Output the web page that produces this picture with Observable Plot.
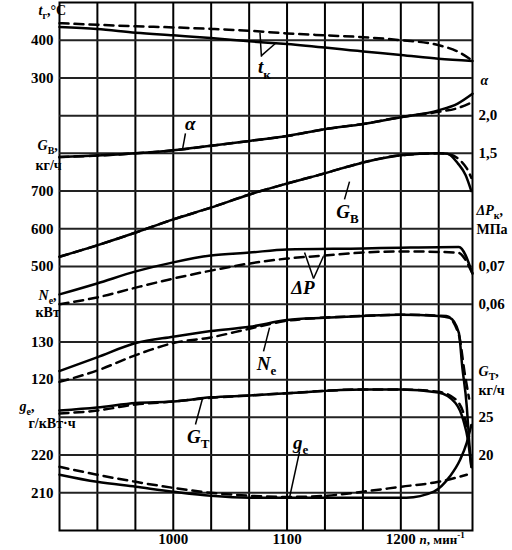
<!DOCTYPE html>
<html><head><meta charset="utf-8">
<script src="https://cdn.jsdelivr.net/npm/d3@7"></script>
<script src="https://cdn.jsdelivr.net/npm/@observablehq/plot@0.6"></script>
<style>body{margin:0;background:#fff;overflow:hidden} svg{display:block}</style>
</head><body><div id="chart"></div>
<script>
// ---- grid / ticks ----
const rpmGrid = [933.3, 966.7, 1000, 1033.3, 1066.7, 1100, 1133.3, 1166.7, 1200, 1233.3];
const rowGrid = [1,2,3,4,5,6,7,8,9,10,11,12,13];
const rpmTicks = [1000, 1100, 1200];
const tTicks = [400, 300];
const alphaTicks = [2.0, 1.5];
const gbTicks = [700, 600, 500];
const dpTicks = [0.07, 0.06];
const neTicks = [130, 120];
const gtTicks = [25, 20];
const geTicks = [220, 210];

// ---- series [rpm, value] ----
const tGasSolid = [[900,435],[933,430],[967,420],[1000,413],[1033,406],[1067,397],[1100,390],[1167,370],[1200,361],[1233,351],[1263,345]];
const tGasDashed = [[900,445],[933,441],[967,437],[1000,434],[1033,430],[1067,425],[1100,418],[1133,413],[1167,408],[1200,400],[1233,387],[1250,370],[1262,348]];
const alphaSolid = [[900,1.45],[933,1.47],[967,1.5],[1000,1.54],[1033,1.6],[1067,1.665],[1100,1.73],[1133,1.82],[1167,1.89],[1200,1.98],[1233,2.07],[1250,2.16],[1263,2.29]];
const alphaDashed = [[900,1.45],[933,1.47],[967,1.5],[1000,1.54],[1033,1.6],[1067,1.665],[1100,1.73],[1133,1.82],[1167,1.89],[1200,1.98],[1233,2.05],[1250,2.1],[1263,2.18]];
const gbSolid = [[900,526],[933,556],[967,590],[1000,625],[1033,656],[1067,691],[1100,720],[1133,747],[1167,776],[1200,795],[1233,800],[1241,799],[1250,774],[1257,742],[1262,700]];
const gbDashed = [[900,526],[933,556],[967,590],[1000,625],[1033,656],[1067,691],[1100,720],[1133,747],[1167,776],[1200,795],[1233,800],[1243,797],[1252,782],[1258,760],[1262,735]];
const dpSolid = [[900,0.0626],[933,0.0655],[967,0.0687],[1000,0.0711],[1033,0.0729],[1067,0.0737],[1100,0.0745],[1167,0.0748],[1200,0.075],[1251,0.0752],[1263,0.0681]];
const dpDashed = [[900,0.060],[933,0.0618],[967,0.0644],[1000,0.0668],[1033,0.0689],[1067,0.0708],[1100,0.0721],[1133,0.0729],[1167,0.0737],[1200,0.074],[1250,0.0737],[1263,0.0681]];
const neSolid = [[900,122.3],[933,125.9],[967,129.7],[1000,131.4],[1033,132.9],[1067,134],[1100,135.8],[1133,136.4],[1167,136.9],[1200,137.2],[1233,136.9],[1243,136.4],[1251,132.4],[1254,123.4],[1258,112.8],[1260,104],[1262,97]];
const neDashed = [[900,119.4],[933,122.4],[967,126.5],[1000,129.7],[1033,131.2],[1067,133.5],[1100,135.6],[1167,136.9],[1200,137.2],[1240,136.9],[1251,131.9],[1256,122],[1260,115]];
const gtSolid = [[900,25.9],[933,26.3],[967,26.9],[1000,27.1],[1033,27.65],[1067,27.9],[1100,28.2],[1167,28.7],[1200,28.7],[1233,28.3],[1248,26.9],[1255,24.6],[1259,22],[1262,18.4]];
const gtDashed = [[900,25.5],[933,25.9],[967,26.7],[1000,27.1],[1033,27.6],[1067,27.9],[1100,28.2],[1167,28.7],[1200,28.7],[1233,28.4],[1248,27.4],[1255,25.6],[1260,22.5]];
const geSolid = [[900,214.8],[933,212.9],[967,211.6],[1000,210.3],[1033,209.2],[1067,208.7],[1100,208.7],[1167,208.7],[1205,208.7],[1229,210.3],[1243,214.3],[1252,218.7],[1258,223.3],[1262,228]];
const geDashed = [[900,216.9],[933,214.8],[967,212.9],[1000,211.3],[1033,210],[1067,209.2],[1100,208.9],[1133,209.2],[1167,210.3],[1200,211.6],[1233,212.9],[1258,214.8]];

// ---- per-axis mapping onto the shared grid rows ----
const tS = d3.scaleLinear([300, 400], [12, 13]);
const aS = d3.scaleLinear([1.5, 2.0], [10, 11]);
const gbS = d3.scaleLinear([600, 700], [8, 9]);
const dpS = d3.scaleLinear([0.06, 0.07], [6, 7]);
const neS = d3.scaleLinear([120, 130], [4, 5]);
const gtS = d3.scaleLinear([20, 25], [2, 3]);
const geS = d3.scaleLinear([210, 220], [1, 2]);

const serif = "'Liberation Serif', 'Times New Roman', serif";
const tx = {fontFamily: serif, fontWeight: "bold", fill: "black"};
const comma = f => d => d3.format(f)(d).replace(".", ",");

const series = [
  [tGasSolid, tS, false], [tGasDashed, tS, true],
  [alphaSolid, aS, false], [alphaDashed, aS, true],
  [gbSolid, gbS, false], [gbDashed, gbS, true],
  [dpSolid, dpS, false], [dpDashed, dpS, true],
  [neSolid, neS, false], [neDashed, neS, true],
  [gtSolid, gtS, false], [gtDashed, gtS, true],
  [geSolid, geS, false], [geDashed, geS, true]
];

const leftTicks = [[tTicks, tS], [gbTicks, gbS], [neTicks, neS], [geTicks, geS]];
const rightTicks = [[alphaTicks, aS, comma(".1f")], [dpTicks, dpS, comma(".2f")], [gtTicks, gtS, String]];

const leftHeads = [
  {text: "*t*_{г},°C", row: 13.79, dx: -21},
  {text: "*G*_{В},", row: 10.21, dx: -22},
  {text: "кг/ч", row: 9.68, dx: -24},
  {text: "*N*_{е},", row: 6.23, dx: -21},
  {text: "кВт", row: 5.78, dx: -24},
  {text: "*g*_{е},", row: 3.28, dx: -40},
  {text: "г/кВт·ч", row: 2.83, dx: -31}
];
const rightHeads = [
  {text: "*α*", row: 11.93, dx: 8},
  {text: "*ΔP*_{к},", row: 8.49, dx: 4},
  {text: "МПа", row: 7.98, dx: 4},
  {text: "*G*_{T},", row: 4.22, dx: 6},
  {text: "кг/ч", row: 3.71, dx: 6}
];
const inLabels = [
  {text: "*t*_{к}", x: 1080, row: 12.28},
  {text: "*α*", x: 1015, row: 10.77},
  {text: "*G*_{В}", x: 1153, row: 8.46},
  {text: "*ΔP*", x: 1114, row: 6.44},
  {text: "*N*_{е}", x: 1082, row: 4.43},
  {text: "*G*_{T}", x: 1022, row: 2.49},
  {text: "*g*_{е}", x: 1112, row: 2.33}
];
const leaders = [
  [1076.2,13.20,1077.5,12.56],
  [1090.7,12.94,1077.5,12.59],
  [1010.7,10.53,1008.1,10.10],
  [1150.5,8.78,1154.9,9.25],
  [1123.3,6.68,1115.4,7.37],
  [1123.3,6.68,1132.0,7.27],
  [1079.3,4.75,1084.6,5.38],
  [1019.5,2.81,1025.7,3.50],
  [1111.0,2.09,1102.2,0.875]
];

const chart = Plot.plot({
  width: 512, height: 550,
  marginLeft: 59, marginRight: 40, marginTop: 2, marginBottom: 20,
  x: {domain: [900, 1263], axis: null},
  y: {domain: [0, 14], axis: null},
  marks: [
    Plot.frame({stroke: "#000", fill: "none", strokeWidth: 2}),
    Plot.ruleX(rpmGrid, {x: d => d, stroke: "#000", strokeWidth: 2}),
    Plot.ruleY(rowGrid, {y: d => d, stroke: "#222", strokeWidth: 2}),
    ...series.map(([data, s, dashed]) => Plot.line(data, {
      x: d => d[0], y: d => s(d[1]), stroke: "black",
      strokeWidth: 2.5, strokeDasharray: dashed ? "9,6" : undefined, curve: "monotone-x"
    })),
    ...leftTicks.map(([ticks, s]) => Plot.text(ticks, {
      y: d => s(d), text: d => String(d), frameAnchor: "left", dx: -6,
      textAnchor: "end", fontSize: 15, ...tx
    })),
    ...rightTicks.map(([ticks, s, f]) => Plot.text(ticks, {
      y: d => s(d), text: f, frameAnchor: "right", dx: 6,
      textAnchor: "start", fontSize: 15, ...tx
    })),
    Plot.text(rpmTicks, {x: d => d, text: d => String(d), frameAnchor: "bottom", dy: 13, fontSize: 15, ...tx}),
    Plot.text(["*n*, мин^{-1}"], {x: () => 1216.5, text: d => d, frameAnchor: "bottom", dy: 13, textAnchor: "start", fontSize: 13, ...tx}),
    ...leftHeads.map(h => Plot.text([h], {y: "row", text: "text", frameAnchor: "left", dx: h.dx, fontSize: 14, ...tx})),
    ...rightHeads.map(h => Plot.text([h], {y: "row", text: "text", frameAnchor: "right", dx: h.dx, textAnchor: "start", fontSize: 14, ...tx})),
    Plot.link(leaders, {x1: d => d[0], y1: d => d[1], x2: d => d[2], y2: d => d[3], stroke: "black", strokeWidth: 1.5}),
    Plot.text(inLabels, {x: "x", y: "row", text: "text", fontSize: 19, ...tx})
  ]
});
chart.style.background = "white";
chart.style.fontFamily = serif;
document.getElementById("chart").appendChild(chart);

// rich text: *italic*, _{sub}, ^{sup}
const NS = "http://www.w3.org/2000/svg";
chart.querySelectorAll("text").forEach(el => {
  const s = el.textContent;
  if (!/[*_^]/.test(s)) return;
  const fs = parseFloat(getComputedStyle(el).fontSize) || 14;
  while (el.firstChild) el.removeChild(el.firstChild);
  const re = /\*([^*]+)\*|_\{([^}]*)\}|\^\{([^}]*)\}|([^*_^]+)/g;
  let m, pending = 0;
  while ((m = re.exec(s))) {
    const ts = document.createElementNS(NS, "tspan");
    let dy = -pending; pending = 0;
    if (m[1] != null) { ts.textContent = m[1]; ts.setAttribute("font-style", "italic"); }
    else if (m[2] != null) { ts.textContent = m[2]; ts.setAttribute("font-size", Math.round(fs * 0.68)); const sh = fs * 0.28; dy += sh; pending = sh; }
    else if (m[3] != null) { ts.textContent = m[3]; ts.setAttribute("font-size", Math.round(fs * 0.72)); const sh = -fs * 0.42; dy += sh; pending = sh; }
    else { ts.textContent = m[4]; }
    if (dy) ts.setAttribute("dy", dy.toFixed(1));
    el.appendChild(ts);
  }
});
</script></body></html>
